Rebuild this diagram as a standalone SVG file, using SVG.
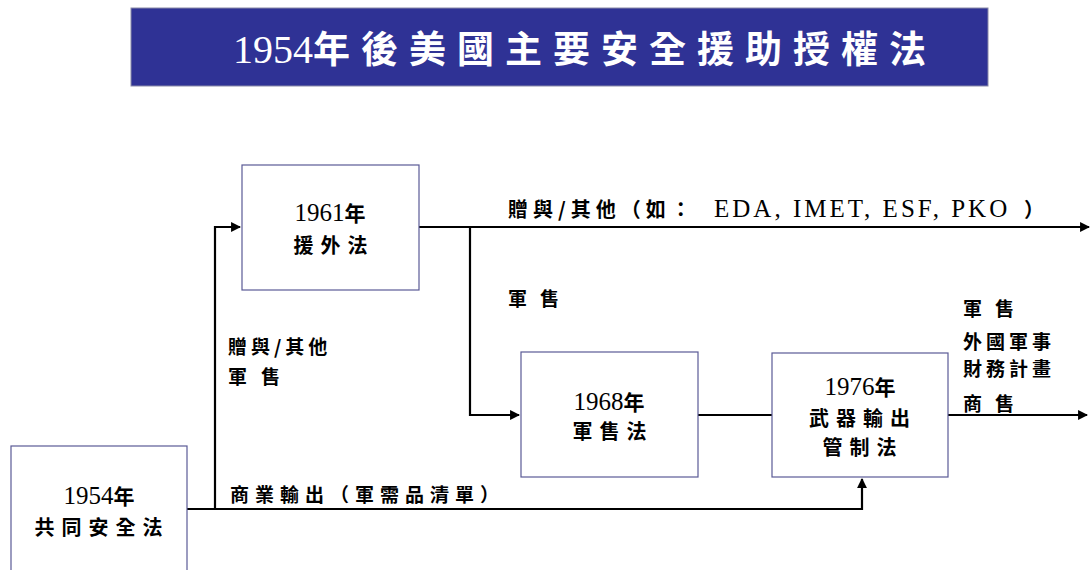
<svg xmlns="http://www.w3.org/2000/svg" width="1091" height="570" viewBox="0 0 1091 570">
<style>
.box{fill:#ffffff;stroke:#5a5a96;stroke-width:1.2}
.ln{fill:none;stroke:#000;stroke-width:2.2}
text{font-family:'Liberation Serif','Noto Sans CJK TC',serif;fill:#000}
.b{font-size:25px;text-anchor:middle}
.cj{font-family:'Noto Sans CJK TC',sans-serif;font-weight:bold}
.bc{font-size:20px;text-anchor:middle;letter-spacing:7px}
.lbl{font-size:19px;font-family:'Noto Sans CJK TC',sans-serif;font-weight:bold}
</style>
<defs>
<marker id="ah" viewBox="0 0 10 10" refX="9" refY="5" markerWidth="4.5" markerHeight="4.5" orient="auto" markerUnits="strokeWidth">
<path d="M0,0 L10,5 L0,10 z" fill="#000"/>
</marker>
</defs>
<rect width="1091" height="570" fill="#ffffff"/>
<g id="title">
<rect x="131" y="8" width="857" height="78" fill="#2f3295" stroke="#8a8aa8" stroke-width="1"/>
<text x="233" y="63" font-size="40" style="fill:#fff">1954<tspan class="cj" font-size="37" letter-spacing="11" style="fill:#fff">年後美國主要安全援助授權法</tspan></text>
</g>
<g id="connectors">
<path class="ln" d="M187,509 H862 V479" marker-end="url(#ah)"/>
<path class="ln" d="M215,509 V227 H240" marker-end="url(#ah)"/>
<path class="ln" d="M419,227 H1089" marker-end="url(#ah)"/>
<path class="ln" d="M470,227 V415 H519" marker-end="url(#ah)"/>
<path class="ln" d="M698,415 H772"/>
<path class="ln" d="M948,415 H1087" marker-end="url(#ah)"/>
</g>
<g id="n1954">
<rect class="box" x="11" y="446" width="176" height="140"/>
<text class="b" x="99" y="504">1954<tspan class="cj" font-size="21">年</tspan></text>
<text class="bc cj" x="102" y="535">共同安全法</text>
</g>
<g id="n1961">
<rect class="box" x="242" y="165" width="177" height="125"/>
<text class="b" x="330" y="221">1961<tspan class="cj" font-size="21">年</tspan></text>
<text class="bc cj" x="334" y="253">援外法</text>
</g>
<g id="n1968">
<rect class="box" x="521" y="352" width="177" height="125"/>
<text class="b" x="609" y="410">1968<tspan class="cj" font-size="21">年</tspan></text>
<text class="bc cj" x="613" y="439">軍售法</text>
</g>
<g id="n1976">
<rect class="box" x="772" y="353" width="176" height="124"/>
<text class="b" x="860" y="395">1976<tspan class="cj" font-size="21">年</tspan></text>
<text class="bc cj" x="863" y="426">武器輸出</text>
<text class="bc cj" x="863" y="455">管制法</text>
</g>
<g id="labels">
<text x="508" y="217" font-size="25"><tspan class="cj" font-size="20" letter-spacing="5">贈與/其他（如：</tspan><tspan x="714" letter-spacing="3">EDA, IMET, ESF, PKO</tspan><tspan class="cj" font-size="20" x="1024">）</tspan></text>
<text class="lbl" x="508" y="306" letter-spacing="13">軍售</text>
<text class="lbl" x="228" y="354" letter-spacing="4">贈與/其他</text>
<text class="lbl" x="228" y="384" letter-spacing="14">軍售</text>
<text class="lbl" x="230" y="502" letter-spacing="6">商業輸出（軍需品清單）</text>
<text class="lbl" x="963" y="316" letter-spacing="13">軍售</text>
<text class="lbl" x="963" y="349" font-size="16.5" letter-spacing="4">外國軍事</text>
<text class="lbl" x="963" y="376" font-size="16.5" letter-spacing="4">財務計畫</text>
<text class="lbl" x="963" y="411" letter-spacing="13">商售</text>
</g>
</svg>
